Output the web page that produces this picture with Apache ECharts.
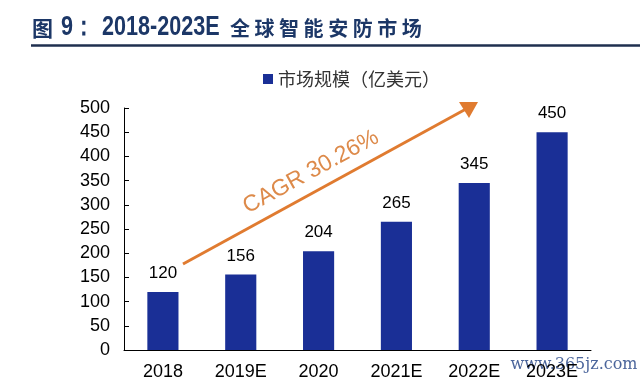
<!DOCTYPE html>
<html><head><meta charset="utf-8">
<script src="https://cdn.jsdelivr.net/npm/echarts@6/dist/echarts.min.js"></script>
<style>html,body{margin:0;padding:0;background:#fff}#c{width:640px;height:381px}</style>
</head><body><div id="c"></div>
<script>
const categories = ['2018','2019E','2020','2021E','2022E','2023E'];
const marketSize = [120,156,204,265,345,450];
const seriesName = '市场规模（亿美元）';
const titleParts = ['图', '9：', '2018-2023E', '全 球 智 能 安 防 市 场'];
const cagrText = 'CAGR 30.26%';
const watermark = 'www.365jz.com';

const titleColor = '#1c3767';
const chart = echarts.init(document.getElementById('c'));
chart.setOption({
  animation:false,
  backgroundColor:'#fff',
  legend:{data:[seriesName],top:65,left:258,itemWidth:10,itemHeight:10,itemGap:6,icon:'rect',
    textStyle:{fontFamily:'Noto Sans CJK SC',fontSize:18,color:'#333'}},
  grid:{left:124,right:49,top:108,bottom:31,containLabel:false},
  xAxis:{type:'category',data:categories,
    axisLine:{lineStyle:{color:'#000',width:1}},
    axisTick:{inside:true,length:5,lineStyle:{color:'#000'}},
    axisLabel:{color:'#000',fontFamily:'Liberation Sans',fontSize:18,margin:13}},
  yAxis:{type:'value',min:0,max:500,interval:50,
    axisLine:{show:true,lineStyle:{color:'#000',width:1}},
    axisTick:{show:true,inside:true,length:5,lineStyle:{color:'#000'}},
    splitLine:{show:false},
    axisLabel:{color:'#000',fontFamily:'Liberation Sans',fontSize:18,margin:14}},
  series:[{name:seriesName,type:'bar',data:marketSize,barWidth:'40%',
    itemStyle:{color:'#1a2f96'},
    label:{show:true,position:'top',distance:10,color:'#000',fontFamily:'Liberation Sans',fontSize:17}}],
  graphic:[
    {type:'text',x:32,y:28,style:{text:titleParts[0],fill:titleColor,fontFamily:'Noto Sans CJK SC',fontWeight:'bold',fontSize:21,verticalAlign:'middle'}},
    {type:'text',x:61,y:28,scaleX:0.8,style:{text:titleParts[1],fill:titleColor,fontFamily:'Liberation Sans',fontWeight:'bold',fontSize:27,verticalAlign:'middle'}},
    {type:'text',x:102,y:28,scaleX:0.8,style:{text:titleParts[2],fill:titleColor,fontFamily:'Liberation Sans',fontWeight:'bold',fontSize:27,verticalAlign:'middle'}},
    {type:'text',x:230,y:28,style:{text:titleParts[3],fill:titleColor,fontFamily:'Noto Sans CJK SC',fontWeight:'bold',fontSize:20,verticalAlign:'middle'}},
    {type:'line',shape:{x1:31,y1:45.5,x2:640,y2:45.5},style:{stroke:'#1f2f4f',lineWidth:2.5}},
    {type:'line',shape:{x1:183,y1:264,x2:466,y2:109},style:{stroke:'#e07b30',lineWidth:3}},
    {type:'polygon',shape:{points:[[478,102],[459,102],[469,118]]},style:{fill:'#e07b30'}},
    {type:'text',x:311,y:172,rotation:0.5,style:{text:cagrText,fill:'#dd8a4a',fontFamily:'Liberation Sans',fontSize:23,align:'center',verticalAlign:'middle'}},
    {type:'text',x:574,y:365,style:{text:watermark,fill:'#2b4a8a',opacity:0.85,fontFamily:'DejaVu Serif',fontSize:16,align:'center',verticalAlign:'middle'}}
  ]
});
</script></body></html>
